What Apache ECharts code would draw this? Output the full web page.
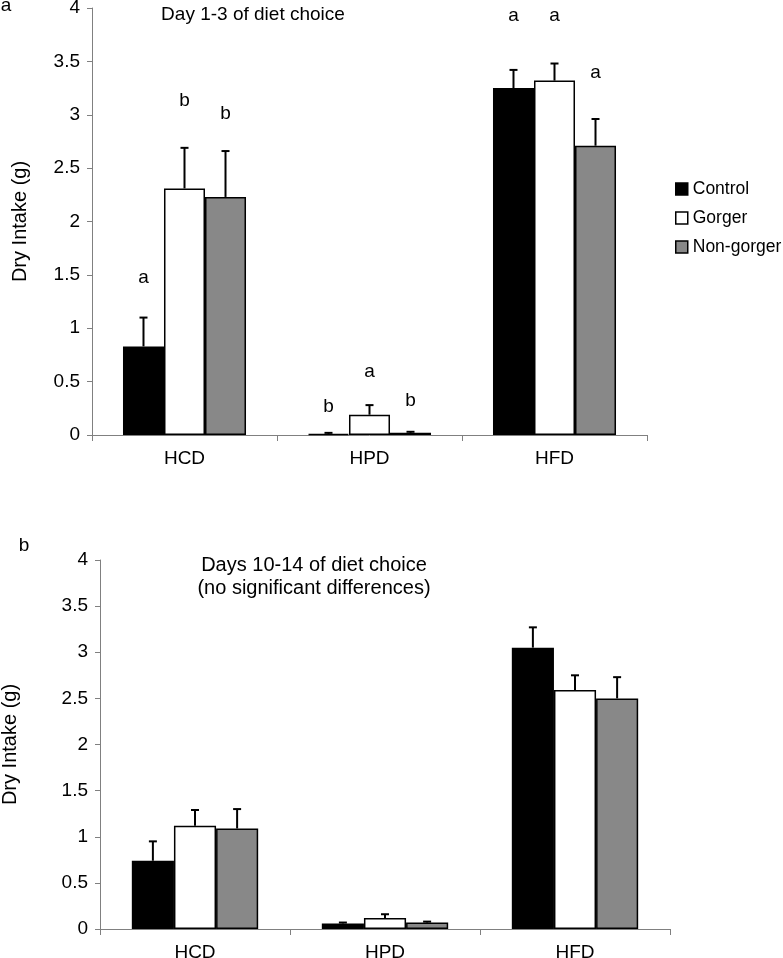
<!DOCTYPE html>
<html>
<head>
<meta charset="utf-8">
<script src="https://cdn.jsdelivr.net/npm/echarts@6/dist/echarts.min.js"></script>
<style>
html,body{margin:0;padding:0;background:#fff;}
#chart{width:783px;height:958px;}
</style>
</head>
<body>
<div id="chart"></div>
<script>
const categories = ['HCD', 'HPD', 'HFD'];
const seriesNames = ['Control', 'Gorger', 'Non-gorger'];
const yTicks = [0, 0.5, 1, 1.5, 2, 2.5, 3, 3.5, 4];

// Panel a: Day 1-3
const aControl = [0.83, 0.01, 3.25];
const aGorger = [2.31, 0.19, 3.32];
const aNonGorger = [2.23, 0.02, 2.71];
const aControlErr = [0.27, 0.01, 0.17];
const aGorgerErr = [0.38, 0.09, 0.16];
const aNonGorgerErr = [0.43, 0.01, 0.25];
const aControlLetters = ['a', 'b', 'a'];
const aGorgerLetters = ['b', 'a', 'a'];
const aNonGorgerLetters = ['b', 'b', 'a'];
const aControlLetterY = [1.47, 0.26, 3.93];
const aGorgerLetterY = [3.13, 0.59, 3.93];
const aNonGorgerLetterY = [3.01, 0.32, 3.39];

// Panel b: Days 10-14
const bControl = [0.74, 0.06, 3.05];
const bGorger = [1.12, 0.12, 2.59];
const bNonGorger = [1.09, 0.07, 2.50];
const bControlErr = [0.21, 0.01, 0.22];
const bGorgerErr = [0.17, 0.04, 0.16];
const bNonGorgerErr = [0.21, 0.01, 0.23];

const colors = ['#000000', '#ffffff', '#888888'];
const FONT = 'Liberation Sans, Arial, sans-serif';
const GAP = 0.335;

function barSeries(name, data, idx, colorIdx) {
  return {
    name: name, type: 'bar', xAxisIndex: idx, yAxisIndex: idx,
    data: data, barGap: '0%', barCategoryGap: (GAP * 100) + '%',
    itemStyle: { color: colors[colorIdx], borderColor: '#000', borderWidth: 1.5 },
    z: 2
  };
}

function errSeries(name, vals, errs, letters, letterY, idx, k) {
  const data = vals.map((v, i) => [i, v, errs[i], letterY ? letterY[i] : 0]);
  return {
    name: name, type: 'custom', xAxisIndex: idx, yAxisIndex: idx,
    data: data, z: 5, silent: true,
    encode: { x: 0, y: 1 },
    renderItem: function (params, api) {
      const cat = api.value(0), v = api.value(1), e = api.value(2);
      const band = api.size([1, 0])[0];
      const bw = band * (1 - GAP) / 3;
      const off = (k - 1) * bw;
      const base = api.coord([cat, v]);
      const top = api.coord([cat, v + e]);
      const x = base[0] + off;
      const children = [
        { type: 'line', shape: { x1: x, y1: base[1], x2: x, y2: top[1] }, style: { stroke: '#000', lineWidth: 2 } },
        { type: 'line', shape: { x1: x - 4, y1: top[1], x2: x + 4, y2: top[1] }, style: { stroke: '#000', lineWidth: 2 } }
      ];
      if (letters) {
        const lp = api.coord([cat, api.value(3)]);
        children.push({ type: 'text', x: x, y: lp[1], style: { text: letters[params.dataIndex], align: 'center', verticalAlign: 'middle', font: '19px ' + FONT, fill: '#000' } });
      }
      return { type: 'group', children: children };
    }
  };
}

function xAxis(idx) {
  return {
    type: 'category', gridIndex: idx, data: categories,
    axisLine: { lineStyle: { color: '#808080', width: 1 } },
    axisTick: { show: true, length: 6, lineStyle: { color: '#808080' } },
    axisLabel: { color: '#000', fontSize: 19, fontFamily: FONT, margin: 14 }
  };
}
function yAxis(idx, gap) {
  return {
    type: 'value', gridIndex: idx, min: 0, max: 4, interval: 0.5,
    name: 'Dry Intake (g)', nameLocation: 'middle', nameRotate: 90, nameGap: gap,
    nameTextStyle: { color: '#000', fontSize: 20, fontFamily: FONT },
    axisLine: { show: true, lineStyle: { color: '#808080', width: 1 } },
    axisTick: { show: true, length: 5, lineStyle: { color: '#808080' } },
    axisLabel: { color: '#000', fontSize: 19, fontFamily: FONT, margin: 12,
      formatter: v => String(yTicks.find(t => Math.abs(t - v) < 1e-9) ?? v) },
    splitLine: { show: false }
  };
}

const option = {
  animation: false,
  backgroundColor: '#fff',
  grid: [
    { left: 92, top: 8, width: 555, height: 427, containLabel: false, outerBoundsMode: 'none' },
    { left: 100, top: 560, width: 570, height: 369, containLabel: false, outerBoundsMode: 'none' }
  ],
  xAxis: [xAxis(0), xAxis(1)],
  yAxis: [yAxis(0, 62), yAxis(1, 80)],
  legend: {
    data: seriesNames, orient: 'vertical', left: 675, top: 180, padding: 0,
    itemWidth: 12, itemHeight: 12, itemGap: 11, icon: 'rect',
    itemStyle: { borderColor: '#000', borderWidth: 1.5 },
    textStyle: { color: '#000', fontSize: 17.5, fontFamily: FONT }
  },
  graphic: [
    { type: 'text', x: 6, y: 6, style: { text: 'a', font: '19px ' + FONT, fill: '#000', align: 'center', verticalAlign: 'middle' } },
    { type: 'text', x: 24, y: 546, style: { text: 'b', font: '19px ' + FONT, fill: '#000', align: 'center', verticalAlign: 'middle' } },
    { type: 'text', x: 253, y: 15, style: { text: 'Day 1-3 of diet choice', font: '19px ' + FONT, fill: '#000', align: 'center', verticalAlign: 'middle' } },
    { type: 'text', x: 314, y: 577, style: { text: 'Days 10-14 of diet choice\n(no significant differences)', font: '20px ' + FONT, lineHeight: 23, fill: '#000', align: 'center', verticalAlign: 'middle' } }
  ],
  series: [
    barSeries('Control', aControl, 0, 0),
    barSeries('Gorger', aGorger, 0, 1),
    barSeries('Non-gorger', aNonGorger, 0, 2),
    barSeries('Control', bControl, 1, 0),
    barSeries('Gorger', bGorger, 1, 1),
    barSeries('Non-gorger', bNonGorger, 1, 2),
    errSeries('errA0', aControl, aControlErr, aControlLetters, aControlLetterY, 0, 0),
    errSeries('errA1', aGorger, aGorgerErr, aGorgerLetters, aGorgerLetterY, 0, 1),
    errSeries('errA2', aNonGorger, aNonGorgerErr, aNonGorgerLetters, aNonGorgerLetterY, 0, 2),
    errSeries('errB0', bControl, bControlErr, null, null, 1, 0),
    errSeries('errB1', bGorger, bGorgerErr, null, null, 1, 1),
    errSeries('errB2', bNonGorger, bNonGorgerErr, null, null, 1, 2)
  ]
};

const chart = echarts.init(document.getElementById('chart'), null, { renderer: 'canvas' });
chart.setOption(option);
</script>
</body>
</html>
